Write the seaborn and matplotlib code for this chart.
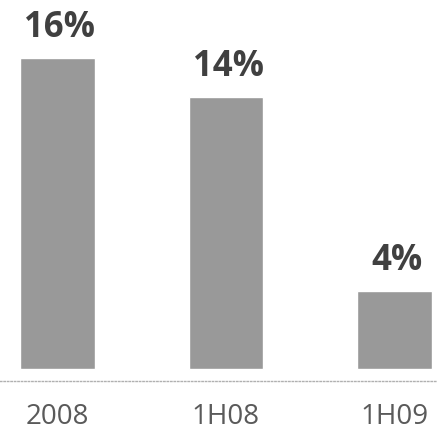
import matplotlib
matplotlib.use("Agg")
import matplotlib.pyplot as plt
import seaborn as sns
import pandas as pd

categories = ["2008", "1H08", "1H09"]
values = [16, 14, 4]
value_labels = ["16%", "14%", "4%"]

sns.set_theme(style="white")
plt.rcParams['font.family'] = ['Open Sans', 'DejaVu Sans']

df = pd.DataFrame({"period": categories, "share": values})

fig = plt.figure(figsize=(4.37, 4.35), dpi=100)
ax = fig.add_axes([0, 1 - 382 / 435, 1, 382 / 435])

sns.barplot(data=df, x="period", y="share", color="#999999", width=0.445,
            saturation=1, ax=ax)

px = 168.5
ax.set_xlim(-57.5 / px, (437 - 57.5) / px)
ax.set_ylim(-12 / 19.45, 370 / 19.45)

for i, (v, lab) in enumerate(zip(values, value_labels)):
    ax.annotate(lab, (i, v), xytext=(1.5, 9.5), textcoords="offset points",
                ha="center", va="bottom", fontsize=25, fontweight="bold",
                color="#404040")

for s in ["top", "left", "right"]:
    ax.spines[s].set_visible(False)
ax.spines["bottom"].set_visible(True)
ax.spines["bottom"].set_color("#b0b0b0")
ax.spines["bottom"].set_linestyle((0, (1, 1.5)))
ax.spines["bottom"].set_linewidth(1)

ax.set_yticks([])
ax.set_xlabel("")
ax.set_ylabel("")
ax.tick_params(axis="x", length=0, pad=15, labelsize=20, labelcolor="#5a5a5a")

fig.savefig("out.png", dpi=100)
